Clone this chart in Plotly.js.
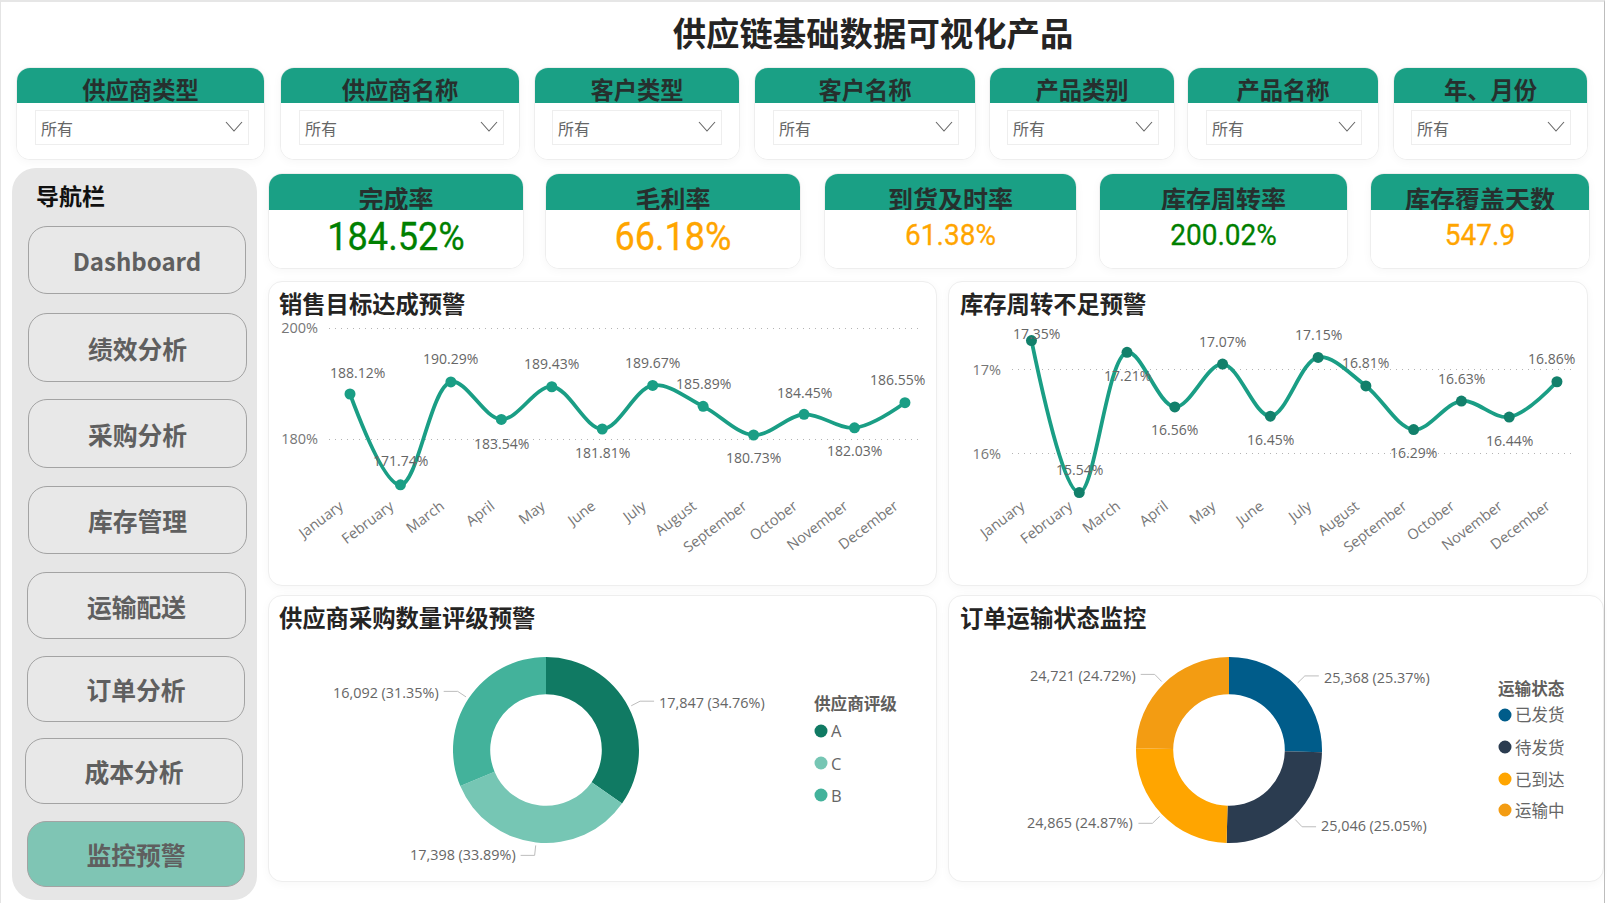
<!DOCTYPE html>
<html lang="zh-CN">
<head>
<meta charset="utf-8">
<title>供应链基础数据可视化产品</title>
<script src="https://cdn.plot.ly/plotly-3.0.1.min.js"></script>
<style>
html,body{margin:0;padding:0;width:1607px;height:903px;overflow:hidden;background:#fff;font-family:"Noto Sans CJK SC","Noto Sans",sans-serif;}
#frame{position:absolute;left:0;top:0;width:1605px;height:903px;border-left:1px solid #e4e4e4;border-right:1px solid #bdbdbd;border-top:2px solid #e6e6e6;box-sizing:border-box;pointer-events:none;}
.abs{position:absolute;box-sizing:border-box;}
#pageTitle{left:0;top:8px;width:1746px;text-align:center;font-size:33.4px;font-weight:700;line-height:48px;color:#252423;}
.card{background:#fff;border:1px solid #eeeeee;border-radius:14px;box-shadow:0 2px 10px rgba(0,0,0,.035);}
.head{position:absolute;left:0;top:0;right:0;background:#1aa085;text-align:center;font-weight:700;color:#26302e;border-radius:13px 13px 0 0;}
.body{position:absolute;left:0;right:0;bottom:0;background:#fff;border-radius:0 0 13px 13px;}
.dd{position:absolute;box-sizing:border-box;background:#fff;border:1px solid #eeeeee;color:#666;font-size:16px;padding-left:5px;}
.dd svg{position:absolute;}
.kval{position:absolute;left:0;right:0;text-align:center;font-family:Roboto,"Liberation Sans",sans-serif;font-weight:400;transform:scaleX(.95);-webkit-text-stroke:.3px currentColor;}
#nav{left:12px;top:168px;width:245px;height:732px;background:#e6e6e6;border-radius:24px;}
#navTitle{left:36px;top:178px;font-size:23px;font-weight:700;line-height:34px;color:#111;}
.btn{border:1.5px solid #a3a3a3;border-radius:19px;background:#e8e8e8;color:#5f5f5f;font-weight:700;font-size:24.8px;text-align:center;display:flex;align-items:center;justify-content:center;}
.btn.lat{font-size:24px;}
.btn.on{background:#7fc5b4;}
.plot{position:absolute;}
</style>
</head>
<body>
<div id="root"></div>
<div id="frame" class="abs"></div>
<script>
// ---------- data ----------
const pageTitle = "供应链基础数据可视化产品";
const slicerTitles = ["供应商类型","供应商名称","客户类型","客户名称","产品类别","产品名称","年、月份"];
const slicerValue = "所有";
const kpiNames = ["完成率","毛利率","到货及时率","库存周转率","库存覆盖天数"];
const kpiValues = ["184.52%","66.18%","61.38%","200.02%","547.9"];
const kpiStatus = ["good","warn","warn","good","warn"];
const navTitle = "导航栏";
const navItems = ["Dashboard","绩效分析","采购分析","库存管理","运输配送","订单分析","成本分析","监控预警"];
const activeNav = "监控预警";

const months = ["January","February","March","April","May","June","July","August","September","October","November","December"];
const salesTitle = "销售目标达成预警";
const salesRate = [188.12,171.74,190.29,183.54,189.43,181.81,189.67,185.89,180.73,184.45,182.03,186.55];
const salesTicks = [180,200];
const turnoverTitle = "库存周转不足预警";
const turnoverRate = [17.35,15.54,17.21,16.56,17.07,16.45,17.15,16.81,16.29,16.63,16.44,16.86];
const turnoverTicks = [16,17];

const ratingTitle = "供应商采购数量评级预警";
const ratingLegend = "供应商评级";
const ratingNames = ["A","C","B"];
const ratingValues = [17847,17398,16092];
const shipTitle = "订单运输状态监控";
const shipLegend = "运输状态";
const shipNames = ["已发货","待发货","已到达","运输中"];
const shipValues = [25368,25046,24865,24721];

// ---------- style and layout ----------
const GREEN="#1a9e85", GREEN_DARK="#12806b", TXT="#666666";
const ratingColors=["#107a63","#76c6b4","#43b29b"];
const shipColors=["#005c8a","#2b3c50","#ffa500","#f39c12"];
const statusColor={good:"#008000",warn:"#ffa500"};
const slicerBoxes=[[16,265,34,248],[280,520,298,503],[534,740,551,721],[754,976,772,958],[989,1175,1006,1158],[1187,1379,1205,1361],[1393,1588,1410,1570]];
const kpiBoxes=[[268,524,38,222],[545,801,38,218],[824,1077,29.5,0],[1099,1348,29.5,0],[1370,1590,29.5,0]];
const navBoxes=[[28,246,226,294],[28,247,313,382],[28,247,399,468],[28,247,486,554],[27,246,572,639],[27,245,656,722],[25,243,738,804],[27,245,821,887]];
const salesLabelShift=[[8,22],[0,24],[0,23],[0,-24],[0,23],[0,-23],[0,23],[0,23],[0,-23],[0,22],[0,-23],[-7,23]];
const turnLabelShift=[[5,7],[0,23],[0,-23],[0,-23],[0,23],[0,-23],[0,23],[0,23],[0,-23],[0,23],[0,-23],[-5,23]];

function el(cls,css,html,parent){const d=document.createElement("div");d.className=cls;d.style.cssText=css;if(html!==undefined)d.textContent=html;(parent||root).appendChild(d);return d;}
const root=document.getElementById("root");
el("abs","",pageTitle).id="pageTitle";

slicerTitles.forEach((t,i)=>{
  const [x0,x1,d0,d1]=slicerBoxes[i];
  const c=el("abs card",`left:${x0}px;top:67px;width:${x1-x0}px;height:93px;`);
  el("head","height:35px;font-size:23.3px;line-height:43px;",t,c);
  el("body","top:35px;",undefined,c);
  const dd=el("dd",`left:${d0-x0}px;top:42px;width:${d1-d0}px;height:35px;line-height:35px;`,slicerValue,c);
  dd.insertAdjacentHTML("beforeend",`<svg width="18" height="11" style="right:5px;top:10px" viewBox="0 0 18 11"><polyline points="1,1 9,10 17,1" fill="none" stroke="#666" stroke-width="1.1"/></svg>`);
});

kpiNames.forEach((t,i)=>{
  const [x0,x1,fs]=kpiBoxes[i];
  const c=el("abs card",`left:${x0}px;top:173px;width:${x1-x0}px;height:96px;`);
  el("head","height:36px;font-size:25px;line-height:49px;",t,c);
  el("body","top:36px;",undefined,c);
  el("kval",`top:${fs>30?36:34}px;font-size:${fs}px;line-height:54px;color:${statusColor[kpiStatus[i]]};`,kpiValues[i],c);
});

el("abs","").id="nav";
el("abs","",navTitle).id="navTitle";
navItems.forEach((t,i)=>{
  const [x0,x1,y0,y1]=navBoxes[i];
  el("abs btn"+(t===activeNav?" on":"")+(/^[A-Za-z]/.test(t)?" lat":""),`left:${x0}px;top:${y0}px;width:${x1-x0}px;height:${y1-y0}px;`,t);
});

const CJK='"Noto Sans CJK SC","Noto Sans",sans-serif', LAT='"Open Sans","Noto Sans CJK SC",sans-serif';

function panel(b){
  el("abs card",`left:${b.l-1}px;top:${b.t-1}px;width:${b.w+1}px;height:${b.h+2}px;`);
  return el("plot",`left:${b.l}px;top:${b.t}px;width:${b.w}px;height:${b.h}px;`);
}
function titleOf(text,b,py){
  return {text:text,font:{family:CJK,size:23.3,weight:700,color:"#252423"},xref:"container",yref:"container",
          x:(b.l>900?11:10)/b.w,xanchor:"left",y:1-(py-b.t)/b.h,yanchor:"middle",pad:{l:0,r:0,t:0,b:0}};
}

function lineChart(b,title,months,vals,ticks,shift,opt){
  const d=panel(b);
  const anns=vals.map((v,i)=>({x:i,y:v,xref:"x",yref:"y",text:v.toFixed(2)+"%",showarrow:false,
      xshift:shift[i][0],yshift:shift[i][1],font:{family:LAT,size:14,color:TXT}}));
  Plotly.newPlot(d,[{type:"scatter",mode:"lines+markers",x:months,y:vals,
      line:{color:GREEN,width:3.8,shape:"spline",smoothing:opt.smooth},
      marker:{color:opt.marker,size:11},cliponaxis:false,hoverinfo:"x+y"}],
   {title:titleOf(title,b,opt.titleY),width:b.w,height:b.h,paper_bgcolor:"rgba(0,0,0,0)",plot_bgcolor:"rgba(0,0,0,0)",showlegend:false,
    margin:opt.margin,annotations:anns,
    xaxis:{type:"category",categoryorder:"array",categoryarray:months,range:opt.xr,showgrid:false,zeroline:false,showline:false,ticks:"",tickangle:-37,
           tickfont:{family:LAT,size:14.5,color:"#777777"},automargin:false,ticklabelstandoff:-4,ticklabelshift:-10},
    yaxis:{range:opt.yr,tickmode:"array",tickvals:ticks,ticktext:ticks.map(t=>t+"%"),showgrid:true,griddash:"1px,5px",gridcolor:"#b4b4b4",gridwidth:1,
           zeroline:false,showline:false,ticks:"",tickfont:{family:LAT,size:14.5,color:"#777777"},automargin:false,ticklabelstandoff:10}
   },{displayModeBar:false});
}

lineChart({l:269,t:282,w:668,h:303},salesTitle,months,salesRate,salesTicks,salesLabelShift,
  {titleY:305,margin:{l:60,r:15,t:45,b:87,pad:0},xr:[-0.416,11.338],yr:[169.37,200.2],marker:GREEN,smooth:1});
lineChart({l:949,t:282,w:639,h:303},turnoverTitle,months,turnoverRate,turnoverTicks,turnLabelShift,
  {titleY:305,margin:{l:63,r:16,t:48,b:87,pad:0},xr:[-0.408,11.315],yr:[15.476,17.476],marker:GREEN_DARK,smooth:1});

function donut(b,title,names,vals,colors,legendTitle,o){
  const d=panel(b);
  const fx=p=>(p-b.l)/b.w, fy=p=>1-(p-b.t)/b.h;
  const {cx,cy,r}=o, sum=vals.reduce((a,c)=>a+c,0);
  const shapes=[],anns=[];
  let acc=0;
  vals.forEach((v,i)=>{
    const mid=(acc+v/2)/sum*2*Math.PI; acc+=v;
    const sx=Math.sin(mid), cy_=-Math.cos(mid), dir=sx>=0?1:-1;
    const x1=cx+(r+3)*sx, y1=cy+(r+3)*cy_, x2=cx+(r+13)*sx, y2=cy+(r+13)*cy_, x3=x2+dir*14;
    shapes.push({type:"path",xref:"paper",yref:"paper",line:{color:"#bdbdbd",width:1},
      path:`M ${fx(x1)} ${fy(y1)} L ${fx(x2)} ${fy(y2)} L ${fx(x3)} ${fy(y2)}`});
    anns.push({xref:"paper",yref:"paper",x:fx(x3+dir*3),y:fy(y2+(cy_>0?-1:1.5)),xanchor:dir>0?"left":"right",yanchor:"middle",showarrow:false,
      text:v.toLocaleString("en-US")+" ("+(v/sum*100).toFixed(2)+"%)",font:{family:LAT,size:14.4,color:TXT}});
  });
  anns.push({xref:"paper",yref:"paper",x:fx(o.lx-2),y:fy(o.ly),xanchor:"left",yanchor:"middle",showarrow:false,text:legendTitle,
    font:{family:CJK,size:16.6,weight:600,color:"#605e5c"}});
  names.forEach((n,i)=>{
    const yy=o.itemY[i], cxx=o.lx+7;
    shapes.push({type:"circle",xref:"paper",yref:"paper",fillcolor:colors[i],line:{width:0},
      x0:fx(cxx-6.5),x1:fx(cxx+6.5),y0:fy(yy+6.5),y1:fy(yy-6.5)});
    anns.push({xref:"paper",yref:"paper",x:fx(cxx+7.5),y:fy(yy),xanchor:"left",yanchor:"middle",showarrow:false,text:n,
      font:{family:LAT,size:16.5,color:TXT}});
  });
  Plotly.newPlot(d,[{type:"pie",labels:names,values:vals,hole:0.6,sort:false,direction:"clockwise",rotation:0,
      marker:{colors:colors,line:{width:0}},textinfo:"none",automargin:false,showlegend:false,
      domain:{x:[fx(cx-r),fx(cx+r)],y:[fy(cy+r),fy(cy-r)]}}],
    {title:titleOf(title,b,o.titleY),width:b.w,height:b.h,paper_bgcolor:"rgba(0,0,0,0)",showlegend:false,
     margin:{l:0,r:0,t:0,b:0},shapes:shapes,annotations:anns},{displayModeBar:false});
}
donut({l:269,t:596,w:668,h:285},ratingTitle,ratingNames,ratingValues,ratingColors,ratingLegend,
  {cx:546,cy:750,r:93,titleY:619,lx:814,ly:703,itemY:[731,763,795]});
donut({l:949,t:596,w:655,h:285},shipTitle,shipNames,shipValues,shipColors,shipLegend,
  {cx:1229,cy:750,r:93,titleY:619,lx:1498,ly:688,itemY:[715,747,779,810]});
</script>
</body>
</html>
